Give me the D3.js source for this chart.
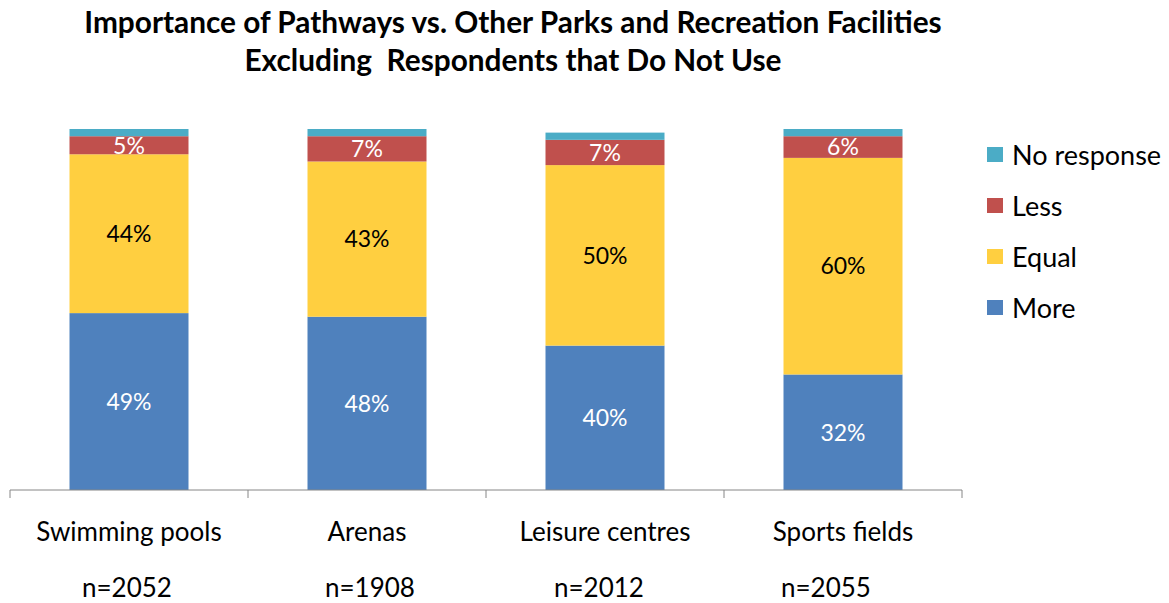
<!DOCTYPE html>
<html>
<head>
<meta charset="utf-8">
<script src="https://cdn.jsdelivr.net/npm/d3@7"></script>
<style>
  body { margin: 0; background: #fff; }
  svg text { font-family: Lato, "Open Sans", sans-serif; white-space: pre; }
</style>
</head>
<body>
<div id="chart"></div>
<script>
// data
const categories = ['Swimming pools', 'Arenas', 'Leisure centres', 'Sports fields'];
const sampleSizes = ['n=2052', 'n=1908', 'n=2012', 'n=2055'];
const seriesNames = ['More', 'Equal', 'Less', 'No response'];
const more = [49, 48, 40, 32];
const equal = [44, 43, 50, 60];
const less = [5, 7, 7, 6];
const noResponse = [2, 2, 2, 2];
const titleLines = ['Importance of Pathways vs. Other Parks and Recreation Facilities', 'Excluding  Respondents that Do Not Use'];

const colors = { 'More': '#4f81bd', 'Equal': '#ffcf40', 'Less': '#c0504d', 'No response': '#4bacc6' };
const labelColor = { 'More': '#fff', 'Equal': '#000', 'Less': '#fff', 'No response': '#fff' };
// the n= text boxes are not quite centred under their categories
const nShift = [-2, 3, -6, -17];

const W = 1169;
const H = 603;
const svg = d3.select('#chart').append('svg')
  .attr('width', W)
  .attr('height', H);

// rows for the stack
const rows = categories.map((c, i) => ({
  cat: c,
  'More': more[i],
  'Equal': equal[i],
  'Less': less[i],
  'No response': noResponse[i]
}));
const stacked = d3.stack().keys(seriesNames)(rows);

const x = d3.scaleBand()
  .domain(categories)
  .range([10, 962])
  .paddingInner(0.5)
  .paddingOuter(0.25);
const y = d3.scaleLinear()
  .domain([0, 100])
  .range([490, 129]);

// title
svg.append('g').selectAll('text')
  .data(titleLines)
  .enter()
  .append('text')
  .attr('x', 513)
  .attr('y', (d, i) => 33 + i * 38)
  .attr('text-anchor', 'middle')
  .attr('font-size', '29.8px')
  .attr('font-weight', 'bold')
  .attr('fill', '#000')
  .text(d => d);

// bars
const layers = svg.append('g').selectAll('g')
  .data(stacked)
  .enter()
  .append('g')
  .attr('fill', d => colors[d.key]);
layers.selectAll('rect')
  .data(d => d)
  .enter()
  .append('rect')
  .attr('x', d => x(d.data.cat))
  .attr('width', x.bandwidth())
  .attr('y', d => y(d[1]))
  .attr('height', d => y(d[0]) - y(d[1]));

// value labels (no label for the thin "No response" slice)
const labelled = stacked.filter(s => s.key !== 'No response');
labelled.forEach((s) => {
  svg.append('g').selectAll('text')
    .data(s)
    .enter()
    .append('text')
    .attr('x', d => x(d.data.cat) + x.bandwidth() / 2)
    .attr('y', d => (y(d[0]) + y(d[1])) / 2)
    .attr('dy', '0.36em')
    .attr('text-anchor', 'middle')
    .attr('font-size', '23px')
    .attr('fill', labelColor[s.key])
    .text(d => `${d[1] - d[0]}%`);
});

// x axis
const xAxis = svg.append('g')
  .attr('transform', 'translate(0,490)');
xAxis.append('line')
  .attr('x1', 10)
  .attr('x2', 962)
  .attr('stroke', '#868686')
  .attr('stroke-width', 1);
const tickXs = categories.map(c => x(c) - x.step() * x.paddingInner() / 2).concat([962]);
xAxis.selectAll('.tick')
  .data(tickXs)
  .enter()
  .append('line')
  .attr('class', 'tick')
  .attr('x1', d => d)
  .attr('x2', d => d)
  .attr('y1', 0)
  .attr('y2', 8)
  .attr('stroke', '#868686');

svg.append('g').selectAll('text')
  .data(categories)
  .enter()
  .append('text')
  .attr('x', d => x(d) + x.bandwidth() / 2)
  .attr('y', 541)
  .attr('text-anchor', 'middle')
  .attr('font-size', '26px')
  .attr('fill', '#000')
  .text(d => d);

svg.append('g').selectAll('text')
  .data(sampleSizes)
  .enter()
  .append('text')
  .attr('x', (d, i) => x(categories[i]) + x.bandwidth() / 2 + nShift[i])
  .attr('y', 597)
  .attr('text-anchor', 'middle')
  .attr('font-size', '26px')
  .attr('fill', '#000')
  .text(d => d);

// legend, top to bottom in reverse stack order
const legendKeys = seriesNames.slice().reverse();
const legend = svg.append('g')
  .attr('transform', 'translate(987,0)');
const item = legend.selectAll('g')
  .data(legendKeys)
  .enter()
  .append('g')
  .attr('transform', (d, i) => `translate(0,${155 + i * 51})`);
item.append('rect')
  .attr('x', 0)
  .attr('y', -8)
  .attr('width', 16)
  .attr('height', 15)
  .attr('fill', d => colors[d]);
item.append('text')
  .attr('x', 25)
  .attr('y', 0)
  .attr('dy', '0.36em')
  .attr('font-size', '27px')
  .attr('fill', '#000')
  .text(d => d);
</script>
</body>
</html>
